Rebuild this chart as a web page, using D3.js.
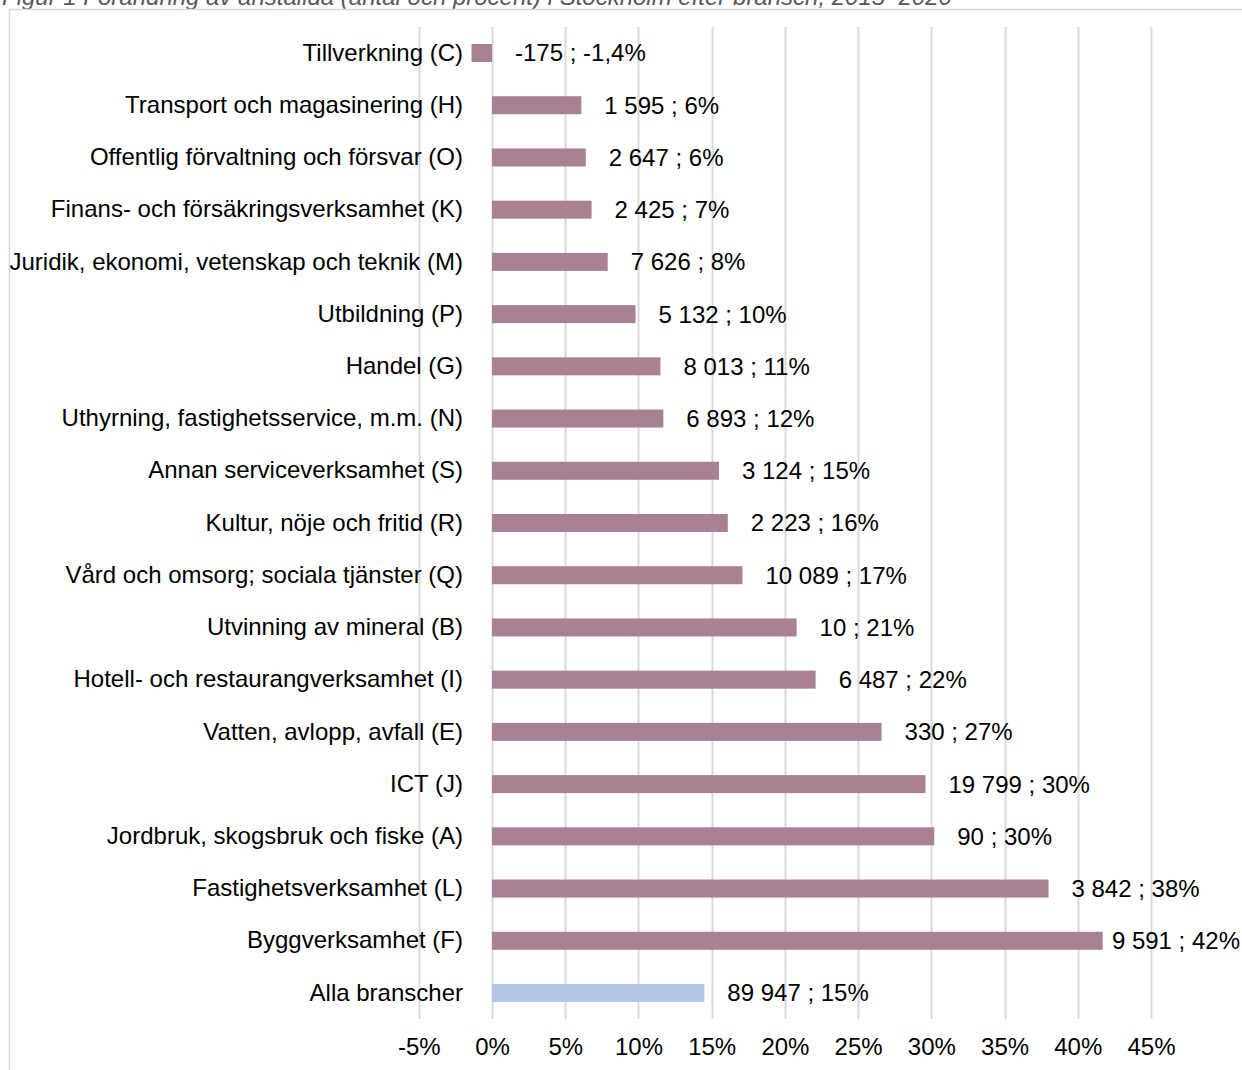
<!DOCTYPE html>
<html>
<head>
<meta charset="utf-8">
<script src="https://cdn.jsdelivr.net/npm/d3@7"></script>
<style>
html, body { margin: 0; padding: 0; background: #fff; overflow: hidden; }
svg { display: block; font-family: Arial, "Liberation Sans", sans-serif; }
</style>
</head>
<body>
<svg id="chart" width="1242" height="1070"></svg>
<script>
const title = "Figur 1 Förändring av anställda (antal och procent) i Stockholm efter bransch, 2015–2020";
const categories = [
  "Tillverkning (C)",
  "Transport och magasinering (H)",
  "Offentlig förvaltning och försvar (O)",
  "Finans- och försäkringsverksamhet (K)",
  "Juridik, ekonomi, vetenskap och teknik (M)",
  "Utbildning (P)",
  "Handel (G)",
  "Uthyrning, fastighetsservice, m.m. (N)",
  "Annan serviceverksamhet (S)",
  "Kultur, nöje och fritid (R)",
  "Vård och omsorg; sociala tjänster (Q)",
  "Utvinning av mineral (B)",
  "Hotell- och restaurangverksamhet (I)",
  "Vatten, avlopp, avfall (E)",
  "ICT (J)",
  "Jordbruk, skogsbruk och fiske (A)",
  "Fastighetsverksamhet (L)",
  "Byggverksamhet (F)",
  "Alla branscher"
];
const percentValues = [-1.4, 6.1, 6.4, 6.8, 7.9, 9.8, 11.5, 11.7, 15.5, 16.1, 17.1, 20.8, 22.1, 26.6, 29.6, 30.2, 38.0, 41.7, 14.5];
const dataLabels = [
  "-175 ; -1,4%", "1 595 ; 6%", "2 647 ; 6%", "2 425 ; 7%", "7 626 ; 8%",
  "5 132 ; 10%", "8 013 ; 11%", "6 893 ; 12%", "3 124 ; 15%", "2 223 ; 16%",
  "10 089 ; 17%", "10 ; 21%", "6 487 ; 22%", "330 ; 27%", "19 799 ; 30%",
  "90 ; 30%", "3 842 ; 38%", "9 591 ; 42%", "89 947 ; 15%"
];
const tickValues = [-5, 0, 5, 10, 15, 20, 25, 30, 35, 40, 45];
const tickLabels = ["-5%", "0%", "5%", "10%", "15%", "20%", "25%", "30%", "35%", "40%", "45%"];

const svg = d3.select("#chart");
const fontSize = 24;
const W = 1242;

// title (clipped at top, as in the reference)
svg.append("text")
  .attr("x", 2).attr("y", 5)
  .attr("font-size", 24).attr("font-style", "italic")
  .attr("fill", "#595959")
  .text(title);

// chart border
svg.append("rect")
  .attr("x", 9.5).attr("y", 9.5)
  .attr("width", 1300).attr("height", 1200)
  .attr("fill", "none").attr("stroke", "#D9D9D9").attr("stroke-width", 1.5);

const x = d3.scaleLinear().domain([-5, 45]).range([418.8, 1151]);
const y = d3.scaleBand().domain(categories).range([26.9, 1019.1])
  .paddingInner(0.655).paddingOuter(0.3275);

// gridlines
svg.append("g").selectAll("line").data(tickValues).join("line")
  .attr("x1", d => Math.round(x(d)) + 0.5).attr("x2", d => Math.round(x(d)) + 0.5)
  .attr("y1", 27).attr("y2", 1019)
  .attr("stroke", "#D9D9D9").attr("stroke-width", 2);

// x axis labels
const xAxis = d3.axisBottom(x).tickValues(tickValues)
  .tickFormat((d, i) => tickLabels[i]).tickSize(0).tickPadding(0);
const gx = svg.append("g").attr("transform", "translate(0,1038)").call(xAxis);
gx.select(".domain").remove();
gx.selectAll("text").attr("font-size", fontSize).attr("fill", "#000")
  .attr("font-family", "Arial, 'Liberation Sans', sans-serif")
  .attr("dy", "0.71em");

// bars
const rows = categories.map((c, i) => ({ c, v: percentValues[i], label: dataLabels[i], i }));
svg.append("g").selectAll("rect").data(rows).join("rect")
  .attr("x", d => x(Math.min(0, d.v)))
  .attr("width", d => Math.abs(x(d.v) - x(0)))
  .attr("y", d => y(d.c))
  .attr("height", y.bandwidth())
  .attr("fill", d => d.c === "Alla branscher" ? "#B4C7E7" : "#AA8095");

// category labels
const yAxis = d3.axisLeft(y).tickSize(0).tickPadding(0);
const gy = svg.append("g").attr("transform", "translate(463,0)").call(yAxis);
gy.select(".domain").remove();
gy.selectAll("text").attr("font-size", fontSize).attr("fill", "#000")
  .attr("font-family", "Arial, 'Liberation Sans', sans-serif");

// data labels (kept inside the picture's right edge)
svg.append("g").selectAll("text").data(rows).join("text")
  .attr("y", d => y(d.c) + y.bandwidth() / 2)
  .attr("dy", "0.35em")
  .attr("font-size", fontSize).attr("fill", "#000")
  .text(d => d.label)
  .each(function(d) {
    const w = this.getComputedTextLength();
    const px = Math.min(x(Math.max(0, d.v)) + 23, W - 2 - w);
    d3.select(this).attr("x", px);
  });
</script>
</body>
</html>
